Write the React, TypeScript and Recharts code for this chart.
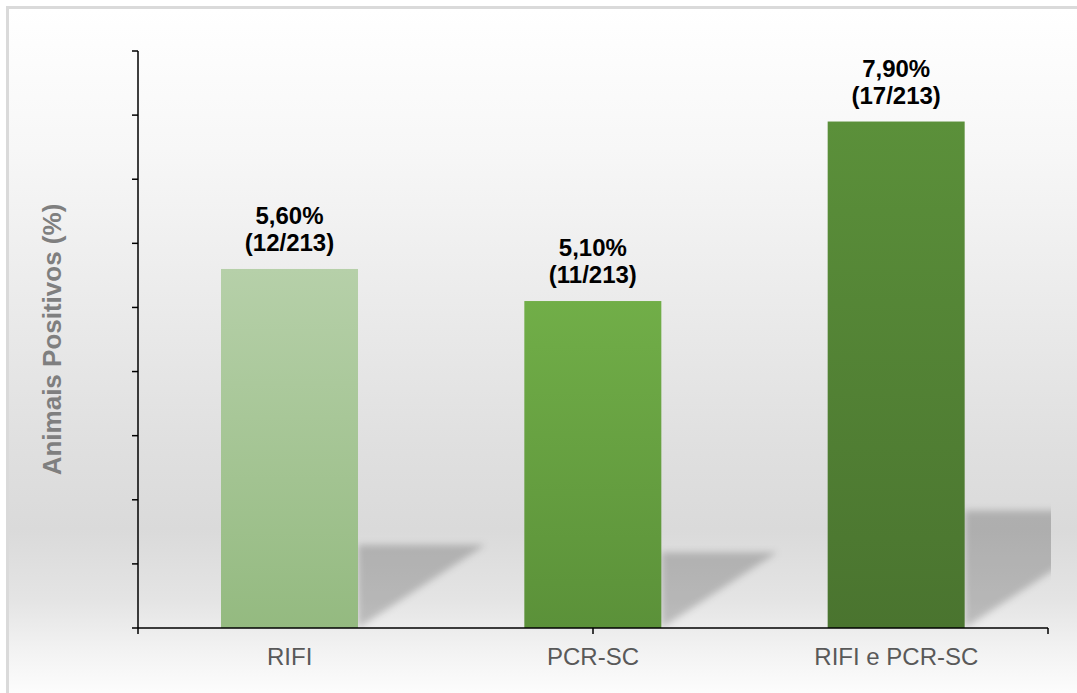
import React from 'react';
import { BarChart, Bar, XAxis, YAxis, LabelList } from 'recharts';

const categories = ['RIFI', 'PCR-SC', 'RIFI e PCR-SC'];
const values = [5.6, 5.1, 7.9];
const pctLabels = ['5,60%', '5,10%', '7,90%'];
const fracLabels = ['(12/213)', '(11/213)', '(17/213)'];
const yTicks = [0, 1, 2, 3, 4, 5, 6, 7, 8, 9];
const boundaryTicks = [0, 1, 2, 3];

const barTop = ['#b6d0a9', '#71ae48', '#5b903a'];
const barBottom = ['#94ba80', '#5b9139', '#4a742f'];

const data = categories.map((c, i) => ({
  name: c,
  value: values[i],
  pctLabel: pctLabels[i],
  fracLabel: fracLabels[i],
}));

const W = 1077;
const H = 693;
const MARGIN = { top: 51, right: 29, bottom: 35, left: 137 };
const FONT = '"Liberation Sans", Arial, sans-serif';
const CLIP_RIGHT = W - MARGIN.right + 3;

const BarShape = (props: any) => {
  const { x, y, width, height, index } = props;
  const y0 = y + height;
  const hs = height * 0.232;
  const ws = height * 0.355;
  const gid = `barGrad${index}`;
  const fid = `shBlur${index}`;
  const cid = `shClip${index}`;
  return (
    <g>
      <defs>
        <linearGradient id={gid} x1="0" y1="0" x2="0" y2="1">
          <stop offset="0%" stopColor={barTop[index]} />
          <stop offset="100%" stopColor={barBottom[index]} />
        </linearGradient>
        <filter id={fid} x="-30%" y="-30%" width="160%" height="160%">
          <feGaussianBlur stdDeviation="3.5" />
        </filter>
        <clipPath id={cid}>
          <rect x={0} y={0} width={CLIP_RIGHT} height={y0} />
        </clipPath>
      </defs>
      <g clipPath={`url(#${cid})`}>
        <polygon
          points={`${x + width},${y0} ${x + width},${y0 - hs} ${x + width + ws},${y0 - hs}`}
          fill="#000"
          fillOpacity={0.2}
          filter={`url(#${fid})`}
        />
      </g>
      <rect x={x} y={y} width={width} height={height} fill={`url(#${gid})`} />
    </g>
  );
};

const YTitle = (p: any) => {
  const vb = p.viewBox || { x: MARGIN.left, y: MARGIN.top, width: 1, height: H - MARGIN.top - 65 };
  const cx = vb.x + (vb.width || 0) - 77;
  const cy = vb.y + vb.height / 2;
  return (
    <text
      x={cx}
      y={cy}
      transform={`rotate(-90 ${cx} ${cy})`}
      textAnchor="middle"
      fill="#7f7f7f"
      fontSize={26}
      fontWeight="bold"
      fontFamily={FONT}
    >
      Animais Positivos (%)
    </text>
  );
};

const NoTick = () => null;

export default function App() {
  return (
    <div style={{ position: 'absolute', left: 0, top: 0, width: W, height: H, overflow: 'hidden', background: '#fff' }}>
      <div
        style={{
          position: 'absolute',
          left: 6,
          top: 6,
          width: W + 40,
          height: H + 40,
          borderLeft: '3px solid #dadada',
          borderTop: '3px solid #dadada',
          background:
            'linear-gradient(to bottom, #ffffff 0px, #f7f7f7 140px, #ececec 280px, #e0e0e0 430px, #dadada 520px, #e4e4e4 590px, #f2f2f2 640px, #fefefe 690px)',
        }}
      />
      <div style={{ position: 'absolute', left: 0, top: 0 }}>
        <BarChart width={W} height={H} data={data} margin={MARGIN} barSize={137}>
          <XAxis
            xAxisId="axisA"
            type="number"
            domain={[0, 3]}
            ticks={boundaryTicks}
            height={1}
            tick={NoTick}
            tickSize={6}
            axisLine={{ stroke: '#000', strokeWidth: 1.5 }}
            tickLine={{ stroke: '#000', strokeWidth: 1.5 }}
            allowDataOverflow
          />
          <XAxis
            xAxisId="axisB"
            dataKey="name"
            height={29}
            axisLine={false}
            tickLine={false}
            tickSize={6}
            tickMargin={13}
            tick={{ fill: '#595959', fontSize: 24, fontFamily: FONT }}
            interval={0}
          />
          <YAxis
            width={1}
            domain={[0, 9]}
            ticks={yTicks}
            tick={NoTick}
            tickSize={6}
            axisLine={{ stroke: '#000', strokeWidth: 1.5 }}
            tickLine={{ stroke: '#000', strokeWidth: 1.5 }}
            label={{ content: YTitle }}
          />
          <Bar xAxisId="axisB" dataKey="value" shape={BarShape} isAnimationActive={false}>
            <LabelList
              dataKey="pctLabel"
              position="top"
              offset={45}
              fill="#000"
              fontSize={24}
              fontWeight="bold"
              fontFamily={FONT}
            />
            <LabelList
              dataKey="fracLabel"
              position="top"
              offset={18}
              fill="#000"
              fontSize={24}
              fontWeight="bold"
              fontFamily={FONT}
            />
          </Bar>
        </BarChart>
      </div>
    </div>
  );
}
